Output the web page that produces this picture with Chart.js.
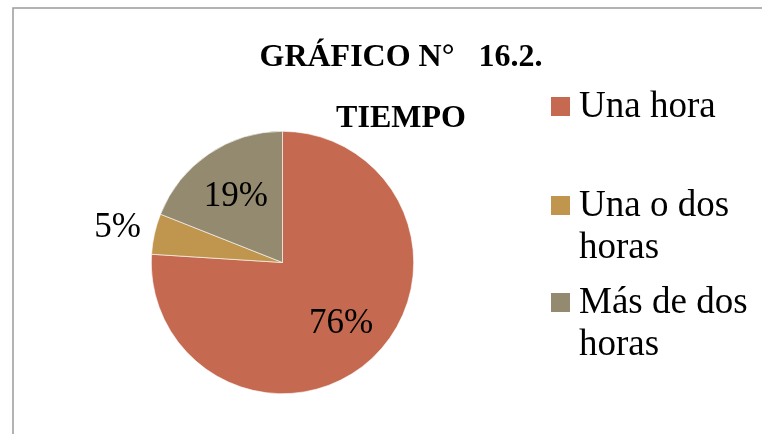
<!DOCTYPE html>
<html>
<head>
<meta charset="utf-8">
<script src="https://cdn.jsdelivr.net/npm/chart.js@4"></script>
<style>
  body { margin: 0; background: #fff; }
  #wrap { position: relative; width: 762px; height: 434px; }
</style>
</head>
<body>
<div id="wrap"><canvas id="pieChart" width="762" height="434"></canvas></div>
<script>
const categories = ["Una hora", "Una o dos horas", "Más de dos horas"];
const legendLines = [["Una hora"], ["Una o dos", "horas"], ["Más de dos", "horas"]];
const percentages = [76, 5, 19];
const sliceColors = ["#C56A51", "#C0964E", "#938A6F"];
const titleLines = ["GRÁFICO N°   16.2.", "TIEMPO"];

const serif = "'Liberation Serif', 'Times New Roman', serif";

// frame, title, legend and percentage labels
const decorations = {
    id: "decorations",
    beforeDraw(chart) {
        const ctx = chart.ctx;
        ctx.save();
        ctx.strokeStyle = "#9a9a9a";
        ctx.lineWidth = 1.5;
        ctx.beginPath();
        ctx.moveTo(13, 434);
        ctx.lineTo(13, 8);
        ctx.lineTo(762, 8);
        ctx.stroke();
        ctx.restore();
    },
    afterDraw(chart) {
        const ctx = chart.ctx;
        ctx.save();
        ctx.fillStyle = "#000";
        ctx.textBaseline = "alphabetic";

        // title
        ctx.font = "bold 32px " + serif;
        ctx.textAlign = "center";
        ctx.fillText(titleLines[0], 401, 66);
        ctx.fillText(titleLines[1], 401, 127);

        // legend
        ctx.textAlign = "left";
        ctx.font = "37px " + serif;
        const rowBases = [117, 216, 313];
        legendLines.forEach((lines, i) => {
            const base = rowBases[i];
            ctx.fillStyle = sliceColors[i];
            ctx.fillRect(551, base - 20, 19, 19);
            ctx.fillStyle = "#000";
            lines.forEach((t, j) => ctx.fillText(t, 579, base + j * 42));
        });

        // percentage labels
        const meta = chart.getDatasetMeta(0);
        ctx.font = "35px " + serif;
        ctx.textAlign = "center";
        ctx.textBaseline = "middle";
        meta.data.forEach((arc, i) => {
            const p = arc.getProps(["x", "y", "startAngle", "endAngle", "outerRadius"], true);
            const mid = (p.startAngle + p.endAngle) / 2;
            const f = percentages[i] < 10 ? 1.28 : 0.62;
            const x = p.x + Math.cos(mid) * p.outerRadius * f;
            const y = p.y + Math.sin(mid) * p.outerRadius * f;
            ctx.fillText(percentages[i] + "%", x + (i === 0 ? 3 : -1), y + 2);
        });
        ctx.restore();
    }
};

new Chart(document.getElementById("pieChart"), {
    type: "pie",
    data: {
        labels: categories,
        datasets: [{
            data: percentages,
            backgroundColor: sliceColors,
            borderColor: "#ffffff",
            borderWidth: 0.6,
            hoverOffset: 0,
            offset: 0
        }]
    },
    options: {
        responsive: false,
        animation: false,
        events: [],
        layout: {
            padding: { top: 131, bottom: 40, left: 151, right: 348 }
        },
        plugins: {
            legend: { display: false },
            title: { display: false },
            tooltip: { enabled: false }
        }
    },
    plugins: [decorations]
});
</script>
</body>
</html>
